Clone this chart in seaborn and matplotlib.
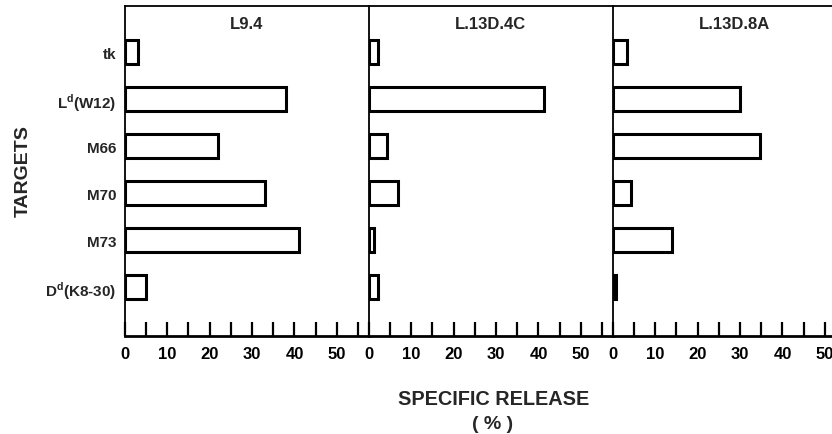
import matplotlib
matplotlib.use("Agg")
import matplotlib.pyplot as plt
import seaborn as sns
import pandas as pd

sns.set_style("white")
plt.rcParams['font.family'] = ['Liberation Sans', 'DejaVu Sans']
plt.rcParams['mathtext.fontset'] = 'custom'
plt.rcParams['mathtext.rm'] = 'Liberation Sans:bold'

targets = ["tk", "L$^{\\mathrm{d}}$(W12)", "M66", "M70", "M73", "D$^{\\mathrm{d}}$(K8-30)"]
panels = ["L9.4", "L.13D.4C", "L.13D.8A"]
l94 = [3.2, 38, 22, 33, 41, 5]
l13d4c = [2.2, 41.3, 4.2, 7, 1.3, 2.2]
l13d8a = [3.4, 29.9, 34.8, 4.3, 14, 0.8]
xticks = [0, 10, 20, 30, 40, 50]

values = [l94, l13d4c, l13d8a]

fig = plt.figure(figsize=(8.32, 4.35), dpi=100)
W, H = 832, 435
left0 = 124.7
pw = 244
top = 7
bottom = 337

for i, (name, vals) in enumerate(zip(panels, values)):
    x0 = left0 + i * pw
    ax = fig.add_axes([x0 / W, (H - bottom) / H, pw / W, (bottom - top) / H])
    df = pd.DataFrame({"target": targets, "release": vals})
    sns.barplot(data=df, y="target", x="release", ax=ax, orient="h",
                fill=False, color="black", linewidth=2.0, width=0.5,
                edgecolor="black", errorbar=None)
    for p in ax.patches:
        p.set_edgecolor("black")
        p.set_linewidth(2.2)
    ax.set_xlim(0, 57.5)
    ax.set_ylim(6.04, -0.98)
    ax.set_xticks(list(range(0, 60, 5)))
    ax.set_xticklabels([str(t) if t in xticks else "" for t in range(0, 60, 5)],
                       fontsize=12, fontweight="bold")
    ax.tick_params(axis="x", bottom=True, direction="in", length=10, width=1.6,
                   pad=7, colors="black")
    ax.set_xlabel("")
    ax.set_ylabel("")
    for s in ["left", "top", "bottom"]:
        ax.spines[s].set_visible(True)
        ax.spines[s].set_color("black")
    ax.spines["left"].set_linewidth(1.3)
    ax.spines["top"].set_linewidth(1.3)
    ax.spines["bottom"].set_linewidth(2.0)
    ax.spines["right"].set_visible(False)
    ax.text(0.5, 0.97, name, transform=ax.transAxes, ha="center", va="top",
            fontsize=12, fontweight="bold")
    if i == 0:
        ax.tick_params(axis="y", left=False, length=0, pad=6)
        ax.set_yticks(range(len(targets)))
        ax.set_yticklabels(targets, fontsize=11, fontweight="bold")
    else:
        ax.set_yticks([])

fig.text(23 / W, 1 - 171 / H, "TARGETS", rotation=90, ha="center", va="center",
         fontsize=14, fontweight="bold")
fig.text(494 / W, 1 - 400 / H, "SPECIFIC RELEASE", ha="center", va="center",
         fontsize=14.3, fontweight="bold")
fig.text(493 / W, 1 - 425 / H, "( % )", ha="center", va="center",
         fontsize=14, fontweight="bold")

fig.savefig("out.png", dpi=100)
